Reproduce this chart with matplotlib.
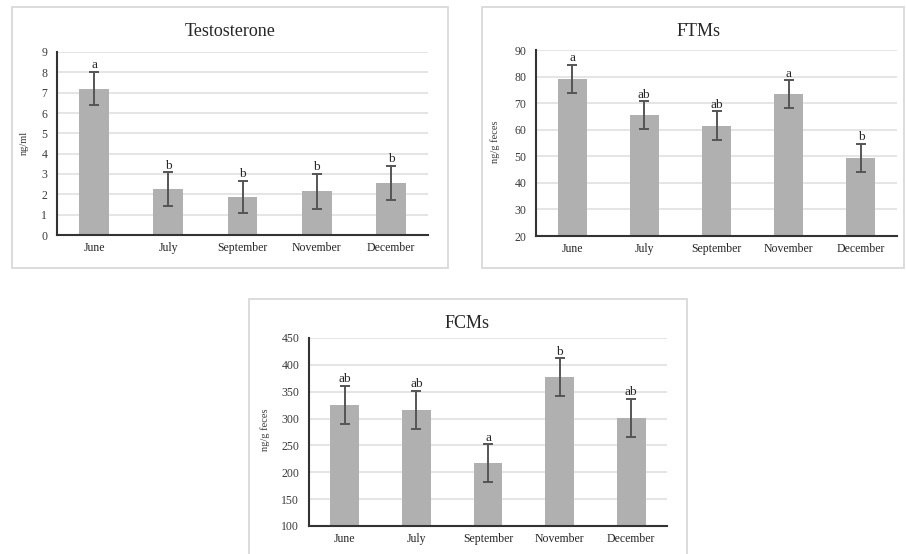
import matplotlib
matplotlib.use("Agg")
import matplotlib.pyplot as plt
from matplotlib.patches import Rectangle

months = ["June", "July", "September", "November", "December"]

testo_mean = [7.2, 2.27, 1.87, 2.15, 2.55]
testo_err = [0.83, 0.82, 0.81, 0.86, 0.85]
testo_letters = ["a", "b", "b", "b", "b"]

ftm_mean = [79.2, 65.4, 61.5, 73.4, 49.4]
ftm_err = [5.2, 5.3, 5.5, 5.3, 5.3]
ftm_letters = ["a", "ab", "ab", "a", "b"]

fcm_mean = [325, 316, 217, 377, 301]
fcm_err = [36, 36, 35, 35, 36]
fcm_letters = ["ab", "ab", "a", "b", "ab"]

W, H = 906, 554
fig = plt.figure(figsize=(W / 100, H / 100), dpi=100)
fig.patch.set_facecolor("white")

SERIF = ["Liberation Serif", "DejaVu Serif"]
BAR = "#b0b0b0"
ERR = "#555555"
GRID = "#dedede"
TXT = "#3a3a3a"


def px_rect(l, t, r, b):
    return [l / W, 1 - b / H, (r - l) / W, (b - t) / H]


def panel(box, ax_px, title, title_xy, ylab, ylab_xy, mean, err, letters,
          ylim, ystep):
    l, t, r, b = box
    fig.patches.append(Rectangle((l / W, 1 - b / H), (r - l) / W, (b - t) / H,
                                 transform=fig.transFigure, fill=False,
                                 edgecolor="#d9d9d9", linewidth=1.3, zorder=0))
    ax = fig.add_axes(px_rect(*ax_px))
    x = list(range(len(months)))
    ax.bar(x, [m - ylim[0] for m in mean], bottom=ylim[0], width=0.4,
           color=BAR, zorder=2)
    ax.errorbar(x, mean, yerr=err, fmt="none", ecolor=ERR, elinewidth=1.4,
                capsize=3.5, capthick=1.4, zorder=3)
    for xi, m, e, s in zip(x, mean, err, letters):
        ax.annotate(s, (xi, m + e), xytext=(0, 0.3), textcoords="offset points",
                    ha="center", va="bottom", fontsize=9.5, family=SERIF,
                    color="#262626")
    ax.set_xlim(-0.5, len(months) - 0.5)
    ax.set_ylim(*ylim)
    ticks = list(range(ylim[0], ylim[1] + 1, ystep))
    ax.set_yticks(ticks)
    ax.set_yticklabels([str(v) for v in ticks], family=SERIF, fontsize=8.5,
                       color=TXT)
    ax.set_xticks(x)
    ax.set_xticklabels(months, family=SERIF, fontsize=8.5, color="#262626")
    ax.tick_params(axis="both", length=0)
    ax.tick_params(axis="y", pad=7)
    ax.tick_params(axis="x", pad=5)
    ax.yaxis.grid(True, color=GRID, linewidth=1.1, zorder=0)
    ax.set_axisbelow(True)
    for side in ("top", "right"):
        ax.spines[side].set_visible(False)
    for side in ("left", "bottom"):
        ax.spines[side].set_color("#333333")
        ax.spines[side].set_linewidth(1.5)
    ax.set_facecolor("none")
    fig.text(title_xy[0] / W, 1 - title_xy[1] / H, title, ha="center",
             va="center", family=SERIF, fontsize=13, color="#262626")
    fig.text(ylab_xy[0] / W, 1 - ylab_xy[1] / H, ylab, ha="center",
             va="center", rotation=90, family=SERIF, fontsize=7.5, color=TXT)
    return ax


panel((12, 7, 448, 268), (57, 52, 428, 235), "Testosterone", (230, 32),
      "ng/ml", (24, 143), testo_mean, testo_err, testo_letters, (0, 9), 1)
panel((482, 7, 904, 268), (536, 50, 897, 236), "FTMs", (699, 32),
      "ng/g feces", (495, 142), ftm_mean, ftm_err, ftm_letters, (20, 90), 10)
panel((249, 299, 687, 560), (309, 338, 667, 526), "FCMs", (467, 323),
      "ng/g feces", (265, 430), fcm_mean, fcm_err, fcm_letters, (100, 450), 50)

fig.savefig("out.png", dpi=100, facecolor="white")
